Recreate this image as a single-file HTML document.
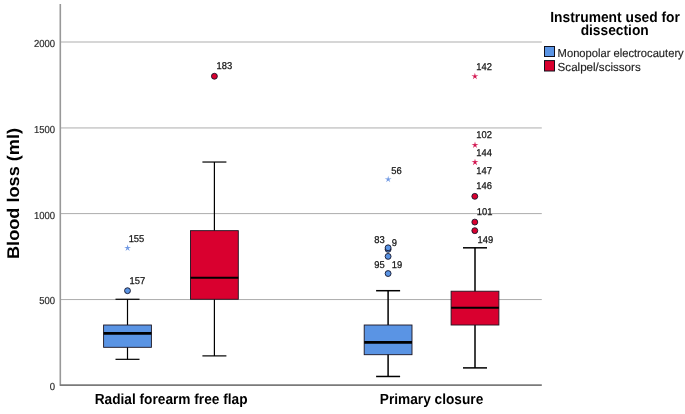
<!DOCTYPE html>
<html><head><meta charset="utf-8"><title>Blood loss box plot</title>
<style>html,body{margin:0;padding:0;background:#fff}svg{display:block;will-change:transform}text{font-family:"Liberation Sans",Arial,sans-serif;fill:#222;text-rendering:geometricPrecision}</style></head><body>
<svg width="685" height="414" viewBox="0 0 685 414">
<rect width="685" height="414" fill="#fff"/>
<line x1="60" x2="541.8" y1="299.55" y2="299.55" stroke="#adadad" stroke-width="1"/>
<line x1="60" x2="541.8" y1="213.6" y2="213.6" stroke="#adadad" stroke-width="1"/>
<line x1="60" x2="541.8" y1="127.95" y2="127.95" stroke="#adadad" stroke-width="1"/>
<line x1="60" x2="541.8" y1="42.0" y2="42.0" stroke="#adadad" stroke-width="1"/>
<line x1="60.3" x2="60.3" y1="4" y2="385.85" stroke="#989898" stroke-width="1.6"/>
<line x1="59.9" x2="541.8" y1="385.05" y2="385.05" stroke="#7a7a7a" stroke-width="1.7"/>
<text transform="translate(55.1,390.25) scale(0.934,1)" font-size="10.2" text-anchor="end" style="fill:#2a2a2a;stroke:#2a2a2a;stroke-width:0.2px">0</text>
<text transform="translate(55.1,304.47) scale(0.934,1)" font-size="10.2" text-anchor="end" style="fill:#2a2a2a;stroke:#2a2a2a;stroke-width:0.2px">500</text>
<text transform="translate(55.1,218.7) scale(0.934,1)" font-size="10.2" text-anchor="end" style="fill:#2a2a2a;stroke:#2a2a2a;stroke-width:0.2px">1000</text>
<text transform="translate(55.1,132.93) scale(0.934,1)" font-size="10.2" text-anchor="end" style="fill:#2a2a2a;stroke:#2a2a2a;stroke-width:0.2px">1500</text>
<text transform="translate(55.1,47.15) scale(0.934,1)" font-size="10.2" text-anchor="end" style="fill:#2a2a2a;stroke:#2a2a2a;stroke-width:0.2px">2000</text>
<text transform="translate(18.6,193.5) rotate(-90) scale(1,0.934)" font-size="18.15" font-weight="bold" text-anchor="middle" style="fill:#000">Blood loss (ml)</text>
<text transform="translate(171.1,403.6) scale(0.934,1)" font-size="14.67" text-anchor="middle" font-weight="bold" style="fill:#000">Radial forearm free flap</text>
<text transform="translate(431.5,403.6) scale(0.934,1)" font-size="14.67" text-anchor="middle" font-weight="bold" style="fill:#000">Primary closure</text>
<g stroke="#000" stroke-width="1.2">
<line x1="127.5" x2="127.5" y1="299.27" y2="359.32"/>
<line x1="115.5" x2="139.5" y1="299.27" y2="299.27"/>
<line x1="115.5" x2="139.5" y1="359.32" y2="359.32"/>
<rect x="103.6" y="325.01" width="47.8" height="22.3" fill="#5a94e4" stroke="#1c1420" stroke-width="0.9"/>
<line x1="103.6" x2="151.4" y1="333.39" y2="333.39" stroke="#000" stroke-width="2.7"/>
</g>
<g stroke="#000" stroke-width="1.2">
<line x1="214.4" x2="214.4" y1="162.03" y2="355.89"/>
<line x1="202.4" x2="226.4" y1="162.03" y2="162.03"/>
<line x1="202.4" x2="226.4" y1="355.89" y2="355.89"/>
<rect x="190.5" y="230.66" width="47.8" height="68.61" fill="#d9002f" stroke="#1c1420" stroke-width="0.9"/>
<line x1="190.5" x2="238.3" y1="277.83" y2="277.83" stroke="#000" stroke-width="2.0"/>
</g>
<g stroke="#000" stroke-width="1.5">
<line x1="388.1" x2="388.1" y1="290.7" y2="376.47"/>
<line x1="376.1" x2="400.1" y1="290.7" y2="290.7"/>
<line x1="376.1" x2="400.1" y1="376.47" y2="376.47"/>
<rect x="364.2" y="325.01" width="47.8" height="29.68" fill="#5a94e4" stroke="#1c1420" stroke-width="0.9"/>
<line x1="364.2" x2="412.0" y1="342.41" y2="342.41" stroke="#000" stroke-width="2.7"/>
</g>
<g stroke="#000" stroke-width="1.5">
<line x1="475.0" x2="475.0" y1="247.81" y2="367.89"/>
<line x1="463.0" x2="487.0" y1="247.81" y2="247.81"/>
<line x1="463.0" x2="487.0" y1="367.89" y2="367.89"/>
<rect x="451.1" y="291.21" width="47.8" height="33.8" fill="#d9002f" stroke="#1c1420" stroke-width="0.9"/>
<line x1="451.1" x2="498.9" y1="307.85" y2="307.85" stroke="#000" stroke-width="2.0"/>
</g>
<polygon points="127.60,244.41 128.28,247.08 131.02,246.90 128.69,248.37 129.72,250.92 127.60,249.16 125.48,250.92 126.51,248.37 124.18,246.90 126.92,247.08" fill="#7099e4"/>
<text transform="translate(128.65,241.7) scale(0.95,1)" font-size="9.9" text-anchor="start" style="fill:#151515;stroke:#151515;stroke-width:0.25px">155</text>
<circle cx="127.5" cy="290.7" r="2.95" fill="#5a94e4" stroke="#15152a" stroke-width="0.9"/>
<text transform="translate(129.45,283.5) scale(0.95,1)" font-size="9.9" text-anchor="start" style="fill:#151515;stroke:#151515;stroke-width:0.25px">157</text>
<circle cx="214.4" cy="76.26" r="2.95" fill="#d9002f" stroke="#15152a" stroke-width="0.9"/>
<text transform="translate(216.45,69.0) scale(0.95,1)" font-size="9.9" text-anchor="start" style="fill:#151515;stroke:#151515;stroke-width:0.25px">183</text>
<polygon points="388.20,175.79 388.88,178.46 391.62,178.28 389.29,179.75 390.32,182.30 388.20,180.54 386.08,182.30 387.11,179.75 384.78,178.28 387.52,178.46" fill="#7099e4"/>
<text transform="translate(391.25,173.5) scale(0.95,1)" font-size="9.9" text-anchor="start" style="fill:#151515;stroke:#151515;stroke-width:0.25px">56</text>
<circle cx="388.1" cy="249.35" r="2.95" fill="#5a94e4" stroke="#15152a" stroke-width="0.9"/>
<circle cx="388.1" cy="247.81" r="2.95" fill="#5a94e4" stroke="#15152a" stroke-width="0.9"/>
<circle cx="388.1" cy="256.39" r="2.95" fill="#5a94e4" stroke="#15152a" stroke-width="0.9"/>
<circle cx="388.1" cy="273.54" r="2.95" fill="#5a94e4" stroke="#15152a" stroke-width="0.9"/>
<text transform="translate(374.25,242.5) scale(0.95,1)" font-size="9.9" text-anchor="start" style="fill:#151515;stroke:#151515;stroke-width:0.25px">83</text>
<text transform="translate(391.75,245.9) scale(0.95,1)" font-size="9.9" text-anchor="start" style="fill:#151515;stroke:#151515;stroke-width:0.25px">9</text>
<text transform="translate(374.25,268.1) scale(0.95,1)" font-size="9.9" text-anchor="start" style="fill:#151515;stroke:#151515;stroke-width:0.25px">95</text>
<text transform="translate(391.75,267.6) scale(0.95,1)" font-size="9.9" text-anchor="start" style="fill:#151515;stroke:#151515;stroke-width:0.25px">19</text>
<polygon points="474.90,72.86 475.58,75.53 478.32,75.35 475.99,76.82 477.02,79.37 474.90,77.61 472.78,79.37 473.81,76.82 471.48,75.35 474.22,75.53" fill="#d2104c"/>
<text transform="translate(476.25,70.3) scale(0.95,1)" font-size="9.9" text-anchor="start" style="fill:#151515;stroke:#151515;stroke-width:0.25px">142</text>
<text transform="translate(476.25,138.1) scale(0.95,1)" font-size="9.9" text-anchor="start" style="fill:#151515;stroke:#151515;stroke-width:0.25px">102</text>
<polygon points="475.00,141.48 475.68,144.15 478.42,143.97 476.09,145.44 477.12,147.99 475.00,146.23 472.88,147.99 473.91,145.44 471.58,143.97 474.32,144.15" fill="#d2104c"/>
<text transform="translate(476.25,155.5) scale(0.95,1)" font-size="9.9" text-anchor="start" style="fill:#151515;stroke:#151515;stroke-width:0.25px">144</text>
<polygon points="475.00,158.63 475.68,161.30 478.42,161.12 476.09,162.59 477.12,165.14 475.00,163.38 472.88,165.14 473.91,162.59 471.58,161.12 474.32,161.30" fill="#d2104c"/>
<text transform="translate(476.25,173.5) scale(0.95,1)" font-size="9.9" text-anchor="start" style="fill:#151515;stroke:#151515;stroke-width:0.25px">147</text>
<text transform="translate(476.25,189.3) scale(0.95,1)" font-size="9.9" text-anchor="start" style="fill:#151515;stroke:#151515;stroke-width:0.25px">146</text>
<circle cx="474.8" cy="196.34" r="2.95" fill="#d9002f" stroke="#15152a" stroke-width="0.9"/>
<text transform="translate(476.75,215.3) scale(0.95,1)" font-size="9.9" text-anchor="start" style="fill:#151515;stroke:#151515;stroke-width:0.25px">101</text>
<circle cx="474.8" cy="222.08" r="2.95" fill="#d9002f" stroke="#15152a" stroke-width="0.9"/>
<circle cx="474.8" cy="230.66" r="2.95" fill="#d9002f" stroke="#15152a" stroke-width="0.9"/>
<text transform="translate(477.45,242.5) scale(0.95,1)" font-size="9.9" text-anchor="start" style="fill:#151515;stroke:#151515;stroke-width:0.25px">149</text>
<text transform="translate(615.1,22) scale(0.942,1)" font-size="14.67" text-anchor="middle" font-weight="bold" style="fill:#000">Instrument used for</text>
<text transform="translate(614.7,35.35) scale(0.94,1)" font-size="14.67" text-anchor="middle" font-weight="bold" style="fill:#000">dissection</text>
<rect x="544.5" y="46.5" width="10" height="10" fill="#5a94e4" stroke="#10101c" stroke-width="1"/>
<rect x="544.5" y="60.6" width="10" height="10.4" fill="#d9002f" stroke="#10101c" stroke-width="1"/>
<text transform="translate(557.6,56.7) scale(0.964,1)" font-size="11.6" text-anchor="start" style="fill:#1e1e1e;stroke:#1e1e1e;stroke-width:0.15px">Monopolar electrocautery</text>
<text transform="translate(557.6,70.5) scale(1.0,1)" font-size="11.6" text-anchor="start" style="fill:#1e1e1e;stroke:#1e1e1e;stroke-width:0.15px">Scalpel/scissors</text>
</svg></body></html>
